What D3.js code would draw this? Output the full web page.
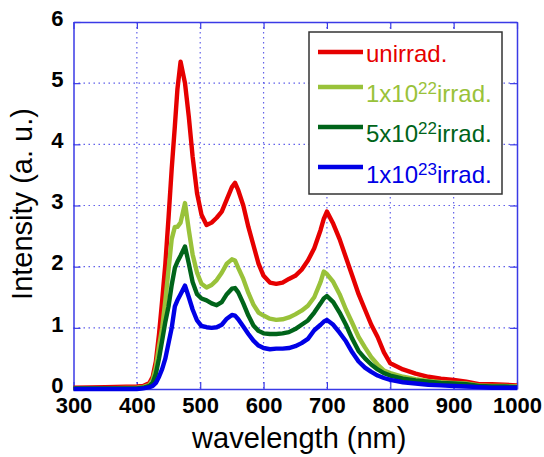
<!DOCTYPE html>
<html><head><meta charset="utf-8">
<script src="https://cdn.jsdelivr.net/npm/d3@7"></script>
<style>
body{margin:0;background:#fff;}
svg text{font-family:"Liberation Sans",Arial,sans-serif;}
</style></head>
<body><svg id="c" width="544" height="457"></svg>
<script>
const wavelengths = [300,350,400,410,420,425,430,435,440,445,450,455,460,464,469,476,482,488,495,502,510,518,526,534,542,550,555,560,568,576,584,592,600,610,620,630,640,650,660,670,680,690,695,700,710,720,730,740,750,760,770,780,790,800,820,840,860,880,900,920,940,960,980,1000];
const unirrad = [0.02,0.03,0.04,0.05,0.1,0.2,0.45,0.9,1.45,2.05,2.8,3.6,4.3,4.9,5.35,5.0,4.45,3.8,3.2,2.85,2.68,2.72,2.8,2.9,3.1,3.3,3.37,3.25,3.0,2.65,2.35,2.05,1.85,1.74,1.72,1.74,1.8,1.85,1.95,2.1,2.3,2.6,2.78,2.9,2.7,2.45,2.15,1.85,1.55,1.3,1.05,0.85,0.6,0.42,0.32,0.25,0.2,0.17,0.15,0.12,0.08,0.08,0.07,0.06];
const irrad1e22 = [0.01,0.01,0.02,0.03,0.07,0.15,0.35,0.7,1.0,1.45,1.95,2.45,2.65,2.65,2.72,3.04,2.6,2.2,1.9,1.72,1.66,1.7,1.78,1.9,2.05,2.12,2.1,1.98,1.8,1.57,1.38,1.25,1.2,1.15,1.13,1.14,1.17,1.22,1.28,1.36,1.5,1.75,1.92,1.88,1.75,1.55,1.3,1.08,0.85,0.68,0.52,0.4,0.3,0.26,0.2,0.16,0.13,0.11,0.1,0.09,0.06,0.05,0.05,0.04];
const irrad5e22 = [0.01,0.01,0.01,0.02,0.05,0.1,0.25,0.5,0.8,1.1,1.35,1.7,1.98,2.08,2.18,2.33,2.05,1.75,1.55,1.48,1.45,1.4,1.37,1.42,1.55,1.64,1.65,1.58,1.4,1.2,1.04,0.95,0.91,0.9,0.9,0.91,0.93,0.98,1.05,1.12,1.25,1.4,1.48,1.52,1.42,1.25,1.05,0.82,0.62,0.5,0.4,0.32,0.26,0.22,0.17,0.14,0.12,0.1,0.09,0.08,0.05,0.04,0.04,0.03];
const irrad1e23 = [0.0,0.0,0.0,0.01,0.03,0.05,0.1,0.2,0.33,0.5,0.75,1.0,1.35,1.45,1.55,1.69,1.5,1.3,1.12,1.03,1.01,1.0,1.01,1.05,1.15,1.21,1.2,1.14,1.02,0.9,0.79,0.71,0.67,0.65,0.66,0.66,0.67,0.7,0.75,0.82,0.96,1.05,1.1,1.13,1.05,0.92,0.78,0.6,0.45,0.35,0.28,0.22,0.18,0.15,0.11,0.09,0.07,0.06,0.05,0.04,0.03,0.02,0.02,0.02];
const seriesNames = ["unirrad.","1x10|22|irrad.","5x10|22|irrad.","1x10|23|irrad."];
const seriesColors = ["#e60000","#99c23a","#00641a","#0000e6"];
const xTicks = [300,400,500,600,700,800,900,1000];
const yTicks = [0,1,2,3,4,5,6];

const series = [unirrad, irrad1e22, irrad5e22, irrad1e23];
const svg = d3.select("#c");
const L=73.5, R=517, T=22, B=389;
const x = d3.scaleLinear().domain([300,1000]).range([L,R]);
const y = d3.scaleLinear().domain([0,6]).range([B,T]);
const axisCol = "#3a3ae6";
const fmt = d3.format("d");

// grid
const grid = svg.append("g");
grid.selectAll("line.gx").data(xTicks.slice(1,-1)).enter().append("line")
  .attr("x1",d=>x(d)).attr("x2",d=>x(d)).attr("y1",T).attr("y2",B)
  .attr("stroke",axisCol).attr("stroke-width",1.2).attr("stroke-dasharray","1.5,3.5").attr("opacity",0.8);
grid.selectAll("line.gy").data(yTicks.slice(1,-1)).enter().append("line")
  .attr("y1",d=>y(d)).attr("y2",d=>y(d)).attr("x1",L).attr("x2",R)
  .attr("stroke",axisCol).attr("stroke-width",1.2).attr("stroke-dasharray","1.5,3.5").attr("opacity",0.8);

// axes
function styleAxis(g){
  g.selectAll(".domain").attr("stroke",axisCol).attr("stroke-width",1.5);
  g.selectAll(".tick line").attr("stroke",axisCol).attr("stroke-width",1.2);
  g.selectAll(".tick text").attr("fill","#000").style("font-size","22px").style("font-weight","bold")
   .style("font-family","'Liberation Sans',Arial,sans-serif");
}
const gx = svg.append("g").attr("transform",`translate(0,${B})`)
  .call(d3.axisBottom(x).tickValues(xTicks).tickFormat(fmt).tickSizeInner(-7).tickSizeOuter(0).tickPadding(8));
styleAxis(gx);
const gy = svg.append("g").attr("transform",`translate(${L},0)`)
  .call(d3.axisLeft(y).tickValues(yTicks).tickFormat(fmt).tickSizeInner(-7).tickSizeOuter(0).tickPadding(10));
styleAxis(gy);
gy.selectAll(".tick text").attr("dy","0.15em");
const gt = svg.append("g").attr("transform",`translate(0,${T})`)
  .call(d3.axisTop(x).tickValues(xTicks).tickSizeInner(-7).tickSizeOuter(0).tickFormat(""));
styleAxis(gt);
const gr = svg.append("g").attr("transform",`translate(${R},0)`)
  .call(d3.axisRight(y).tickValues(yTicks).tickSizeInner(-7).tickSizeOuter(0).tickFormat(""));
styleAxis(gr);

// lines
const line = d3.line().x((d,i)=>x(wavelengths[i])).y(d=>y(d));
series.forEach((s,k)=>{
  svg.append("path").datum(s).attr("d",line).attr("fill","none")
    .attr("stroke",seriesColors[k]).attr("stroke-width",4.4).attr("stroke-linejoin","round");
});

// axis titles
svg.append("text").attr("x",(L+R)/2+4).attr("y",448).attr("text-anchor","middle")
  .style("font-size","29px").text("wavelength (nm)");
svg.append("text").attr("transform","translate(32,204) rotate(-90)").attr("text-anchor","middle")
  .style("font-size","29px").text("Intensity (a. u.)");

// legend
const lg = svg.append("g");
lg.append("rect").attr("x",309).attr("y",32).attr("width",193).attr("height",162)
  .attr("fill","#fff").attr("stroke","#333").attr("stroke-width",1.5);
const baselines=[62,102,142,182.5];
const lineYs=[52,87,127,167];
seriesNames.forEach((n,k)=>{
  lg.append("line").attr("x1",318).attr("x2",363).attr("y1",lineYs[k]).attr("y2",lineYs[k])
    .attr("stroke",seriesColors[k]).attr("stroke-width",4.4);
  const parts = n.split("|");
  const t = lg.append("text").attr("x",366).attr("y",baselines[k]).attr("fill",seriesColors[k]).style("font-size","24px");
  if(parts.length===1){ t.text(parts[0]); }
  else{
    t.append("tspan").text(parts[0]);
    t.append("tspan").attr("dy",-8).style("font-size","17px").text(parts[1]);
    t.append("tspan").attr("dy",8).text(parts[2]);
  }
});
</script></body></html>
